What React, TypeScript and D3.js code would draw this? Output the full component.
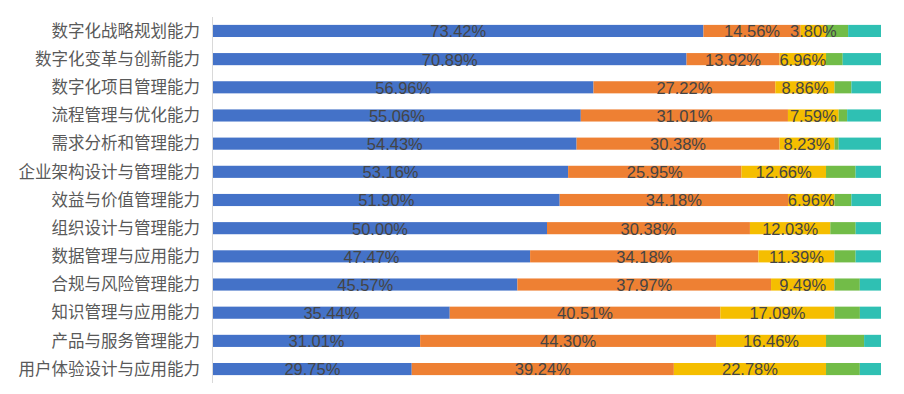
import React from "react";
import * as d3 from "d3";

const categories = [
  "数字化战略规划能力",
  "数字化变革与创新能力",
  "数字化项目管理能力",
  "流程管理与优化能力",
  "需求分析和管理能力",
  "企业架构设计与管理能力",
  "效益与价值管理能力",
  "组织设计与管理能力",
  "数据管理与应用能力",
  "合规与风险管理能力",
  "知识管理与应用能力",
  "产品与服务管理能力",
  "用户体验设计与应用能力",
];

const series1 = [73.42, 70.89, 56.96, 55.06, 54.43, 53.16, 51.9, 50.0, 47.47, 45.57, 35.44, 31.01, 29.75];
const series2 = [14.56, 13.92, 27.22, 31.01, 30.38, 25.95, 34.18, 30.38, 34.18, 37.97, 40.51, 44.3, 39.24];
const series3 = [3.8, 6.96, 8.86, 7.59, 8.23, 12.66, 6.96, 12.03, 11.39, 9.49, 17.09, 16.46, 22.78];
const series4 = [3.3, 2.5, 2.53, 1.27, 0.63, 4.43, 2.53, 3.8, 3.16, 3.8, 3.8, 5.7, 5.06];
const series5 = [4.92, 5.73, 4.43, 5.07, 6.33, 3.8, 4.43, 3.79, 3.8, 3.17, 3.16, 2.53, 3.17];

const seriesList = [series1, series2, series3, series4, series5];
const colors = ["#4472C8", "#EE8033", "#F5BE00", "#72BC48", "#2FC0B3"];
const labeledSeries = [0, 1, 2];

const W = 904;
const H = 394;
const plotLeft = 213;
const plotRight = 881;
const plotTop = 17;
const plotBottom = 383;

export default function App() {
  const x = d3.scaleLinear().domain([0, 100]).range([plotLeft, plotRight]);
  const y = d3
    .scaleBand<string>()
    .domain(categories)
    .range([plotTop, plotBottom])
    .paddingInner(0.57)
    .paddingOuter(0.28);

  const rows = categories.map((c, i) => {
    const vals = seriesList.map((s) => s[i]);
    const total = d3.sum(vals);
    let acc = 0;
    const segs = vals.map((v, k) => {
      const start = acc;
      acc += (v / total) * 100;
      return { k, v, start, end: acc };
    });
    return { c, segs };
  });

  const bw = y.bandwidth();

  return (
    <svg
      width={W}
      height={H}
      style={{ position: "absolute", left: 0, top: 0, background: "#fff" }}
    >
      {rows.map((r) => {
        const y0 = y(r.c)!;
        return (
          <g key={r.c}>
            {r.segs.map((s) => (
              <rect
                key={s.k}
                x={x(s.start)}
                y={y0}
                width={x(s.end) - x(s.start)}
                height={bw}
                fill={colors[s.k]}
              />
            ))}
          </g>
        );
      })}
      <line
        x1={plotLeft - 0.5}
        x2={plotLeft - 0.5}
        y1={plotTop}
        y2={plotBottom}
        stroke="#d9d9d9"
        strokeWidth={1}
      />
      {rows.map((r) => {
        const cy = y(r.c)! + bw / 2;
        return (
          <g key={"t" + r.c}>
            <text
              x={plotLeft - 13}
              y={cy}
              dy="0.35em"
              textAnchor="end"
              fontFamily="'Noto Sans CJK SC', sans-serif"
              fontSize={16.5}
              fill="#595959"
            >
              {r.c}
            </text>
            {r.segs
              .filter((s) => labeledSeries.includes(s.k))
              .map((s) => (
                <text
                  key={s.k}
                  x={(x(s.start) + x(s.end)) / 2}
                  y={cy + 0.5}
                  dy="0.36em"
                  textAnchor="middle"
                  fontFamily="'Liberation Sans', Arial, sans-serif"
                  fontSize={16.5}
                  fill="#454545"
                >
                  {s.v.toFixed(2) + "%"}
                </text>
              ))}
          </g>
        );
      })}
    </svg>
  );
}
